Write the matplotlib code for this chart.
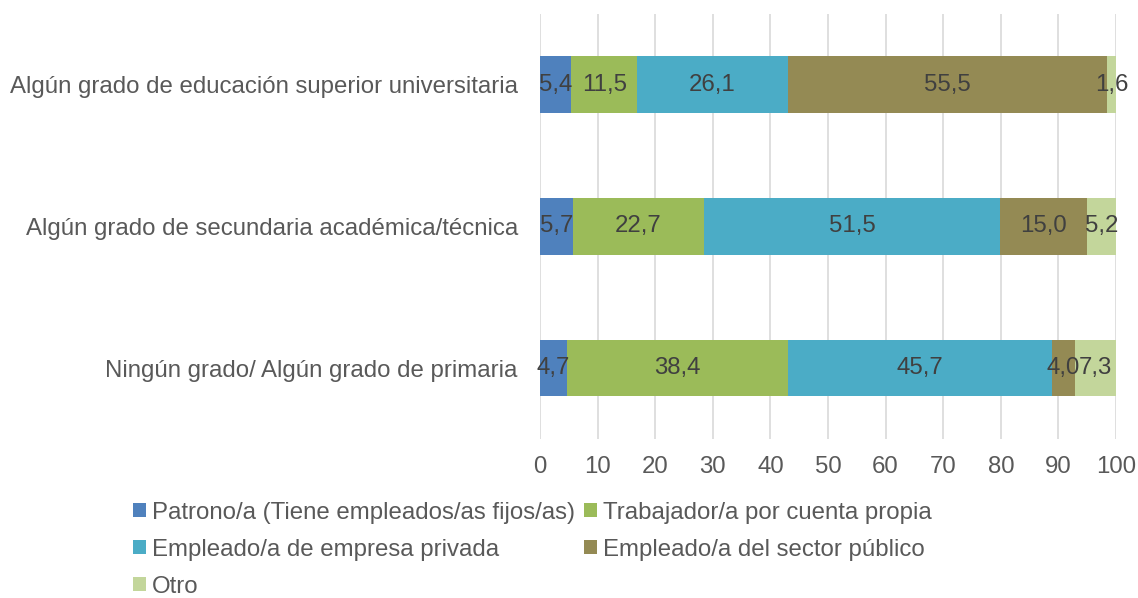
import matplotlib.pyplot as plt
import numpy as np

plt.rcParams['font.family'] = ['Liberation Sans', 'DejaVu Sans']

categories = ["Ningún grado/ Algún grado de primaria",
              "Algún grado de secundaria académica/técnica",
              "Algún grado de educación superior universitaria"]
series = ["Patrono/a (Tiene empleados/as fijos/as)",
          "Trabajador/a por cuenta propia",
          "Empleado/a de empresa privada",
          "Empleado/a del sector público",
          "Otro"]
patrono = [4.7, 5.7, 5.4]
cuenta_propia = [38.4, 22.7, 11.5]
privada = [45.7, 51.5, 26.1]
publico = [4.0, 15.0, 55.5]
otro = [7.3, 5.2, 1.6]
values = [patrono, cuenta_propia, privada, publico, otro]
colors = ["#4F81BD", "#9BBB59", "#4BACC6", "#948A54", "#C3D69B"]

fs = 17.3

fig = plt.figure(figsize=(11.38, 5.98), dpi=100)
ax = fig.add_axes([0.4745, 0.266, 0.5062, 0.711])

y = np.arange(len(categories))
left = np.zeros(len(categories))
handles = []
for name, vals, col in zip(series, values, colors):
    bars = ax.barh(y, vals, left=left, height=0.4, color=col, label=name, zorder=2)
    handles.append(bars)
    labels = [f"{v:.1f}".replace(".", ",") for v in vals]
    ax.bar_label(bars, labels=labels, label_type="center", fontsize=fs, color="#404040")
    left += np.array(vals)

ax.set_xlim(0, 100)
ax.set_ylim(-0.5, 2.5)
ax.set_xticks(range(0, 101, 10))
ax.set_yticks(y)
ax.set_yticklabels(categories)
ax.tick_params(axis="both", length=0, labelsize=fs, colors="#595959")
ax.tick_params(axis="x", pad=12)
ax.tick_params(axis="y", pad=16)
ax.grid(axis="x", color="#D9D9D9", linewidth=1.2, zorder=0)
for s in ax.spines.values():
    s.set_visible(False)

# legend is filled row by row in the original
order = [0, 2, 4, 1, 3]
fig.legend([handles[i] for i in order], [series[i] for i in order],
           loc="upper left", bbox_to_anchor=(0.117, 0.161), ncol=2, frameon=False,
           fontsize=fs, labelcolor="#595959", handlelength=0.55, handleheight=0.55,
           handletextpad=0.25, columnspacing=0.35, labelspacing=0.62,
           borderaxespad=0, borderpad=0)

fig.savefig("out.png", dpi=100)
